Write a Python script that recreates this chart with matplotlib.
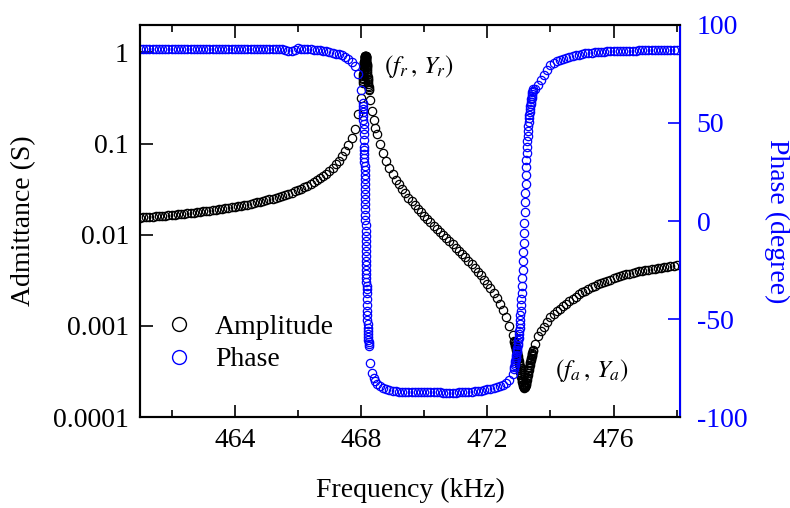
import numpy as np
import matplotlib
matplotlib.use("Agg")
from matplotlib import pyplot as plt
from matplotlib.lines import Line2D
from matplotlib.ticker import FixedLocator, FuncFormatter, MultipleLocator

plt.rcParams['font.family'] = ['Liberation Serif', 'DejaVu Serif']
plt.rcParams['mathtext.fontset'] = 'stix'
plt.rcParams['axes.unicode_minus'] = False

# --- measured sweep, read off the plot ---
# coarse sweep below the resonance
freq_low = [461.0, 461.1, 461.2, 461.3, 461.4, 461.5, 461.6, 461.7, 461.8, 461.9,
            462.0, 462.1, 462.2, 462.3, 462.4, 462.5, 462.6, 462.7, 462.8, 462.9,
            463.0, 463.1, 463.2, 463.3, 463.4, 463.5, 463.6, 463.7, 463.8, 463.9,
            464.0, 464.1, 464.2, 464.3, 464.4, 464.5, 464.6, 464.7, 464.8, 464.9,
            465.0, 465.1, 465.2, 465.3, 465.4, 465.5, 465.6, 465.7, 465.8, 465.9,
            466.0, 466.1, 466.2, 466.3, 466.4, 466.5, 466.6, 466.7, 466.8, 466.9,
            467.0, 467.1, 467.2, 467.3, 467.4, 467.5, 467.6, 467.7, 467.8, 467.9,
            468.0]
amp_low = [0.0154, 0.0155, 0.0156, 0.0157, 0.0158, 0.0159, 0.0160, 0.0161, 0.0162, 0.0164,
           0.0165, 0.0166, 0.0167, 0.0169, 0.0170, 0.0172, 0.0173, 0.0175, 0.0176, 0.0178,
           0.0180, 0.0182, 0.0184, 0.0186, 0.0188, 0.0190, 0.0192, 0.0194, 0.0197, 0.0199,
           0.0202, 0.0205, 0.0208, 0.0211, 0.0214, 0.0218, 0.0222, 0.0226, 0.0230, 0.0234,
           0.0239, 0.0244, 0.0249, 0.0255, 0.0261, 0.0267, 0.0274, 0.0282, 0.0290, 0.0299,
           0.0309, 0.0320, 0.0332, 0.0345, 0.0360, 0.0377, 0.0395, 0.0417, 0.0441, 0.0469,
           0.0503, 0.0542, 0.0590, 0.0649, 0.0724, 0.0822, 0.0956, 0.115, 0.145, 0.210,
           0.320]
phase_low = [87.8, 87.9, 87.8, 87.8, 87.7, 87.8, 87.9, 87.8, 87.8, 87.8,
             87.8, 87.8, 87.9, 87.8, 87.8, 87.7, 87.8, 87.8, 87.9, 87.8,
             87.8, 87.8, 87.7, 87.8, 87.8, 87.8, 87.9, 87.8, 87.8, 87.8,
             87.8, 87.7, 87.8, 87.8, 87.8, 87.8, 87.9, 87.8, 87.7, 87.8,
             87.8, 87.8, 87.7, 87.8, 87.7, 87.6, 87.4, 86.9, 86.6, 87.4,
             88.2, 88.0, 87.8, 87.7, 87.6, 87.4, 87.2, 87.0, 86.8, 86.5,
             86.2, 85.8, 85.4, 85.0, 84.5, 83.8, 82.8, 81.3, 79.0, 75.0,
             67.0]

# fine sweep across the resonance (f_r, Y_r)
freq_res = [468.05, 468.055, 468.06, 468.065, 468.07, 468.075, 468.08, 468.085, 468.09, 468.095,
            468.1, 468.1025, 468.105, 468.1075, 468.11, 468.1125, 468.115, 468.1175, 468.12, 468.1225,
            468.125, 468.1275, 468.13, 468.1325, 468.135, 468.1375, 468.14, 468.1425, 468.145, 468.1475,
            468.15, 468.1525, 468.155, 468.1575, 468.16, 468.1625, 468.165, 468.1675, 468.17, 468.1725,
            468.175, 468.1775, 468.18, 468.185, 468.19, 468.195, 468.2, 468.205, 468.21, 468.215,
            468.22, 468.225, 468.23, 468.235, 468.24, 468.245, 468.25]
amp_res = [0.4666, 0.4862, 0.5071, 0.5296, 0.5535, 0.5792, 0.6063, 0.6353, 0.6656, 0.6972,
           0.7297, 0.7462, 0.7627, 0.7789, 0.7951, 0.8106, 0.8260, 0.8401, 0.8542, 0.8661,
           0.8780, 0.8871, 0.8962, 0.9018, 0.9074, 0.9090, 0.9106, 0.9082, 0.9057, 0.8993,
           0.8929, 0.8830, 0.8731, 0.8605, 0.8478, 0.8330, 0.8182, 0.8022, 0.7861, 0.7694,
           0.7527, 0.7358, 0.7188, 0.6855, 0.6532, 0.6222, 0.5928, 0.5652, 0.5391, 0.5148,
           0.4921, 0.4708, 0.4511, 0.4325, 0.4152, 0.3992, 0.3840]
phase_res = [60.3, 58.9, 57.3, 55.6, 53.7, 51.6, 49.4, 46.9, 44.2, 41.2,
             37.9, 36.1, 34.3, 32.3, 30.3, 28.2, 26.0, 23.7, 21.4, 19.0,
             16.5, 14.0, 11.4, 8.7, 6.0, 3.3, 0.6, -2.2, -4.9, -7.6,
             -10.2, -12.8, -15.4, -17.9, -20.3, -22.6, -24.9, -27.1, -29.2, -31.2,
             -33.1, -34.9, -36.7, -40.0, -43.0, -45.8, -48.2, -50.5, -52.5, -54.4,
             -56.2, -57.7, -59.2, -60.5, -61.7, -62.9, -63.9]

# between the two resonances
freq_mid = [468.3, 468.35, 468.4, 468.45, 468.5, 468.6, 468.7, 468.8, 468.9,
            469.0, 469.1, 469.2, 469.3, 469.4, 469.5, 469.6, 469.7, 469.8, 469.9,
            470.0, 470.1, 470.2, 470.3, 470.4, 470.5, 470.6, 470.7, 470.8, 470.9,
            471.0, 471.1, 471.2, 471.3, 471.4, 471.5, 471.6, 471.7, 471.8, 471.9,
            472.0, 472.1, 472.2, 472.3, 472.4, 472.5, 472.6, 472.7, 472.8]
amp_mid = [0.300, 0.225, 0.180, 0.150, 0.128, 0.098, 0.078, 0.064, 0.054,
           0.0465, 0.0402, 0.0356, 0.0317, 0.0284, 0.0256, 0.0232, 0.0211, 0.0193, 0.0176,
           0.0162, 0.0149, 0.0137, 0.0126, 0.0116, 0.01075, 0.00993, 0.00917, 0.00847, 0.00782,
           0.00722, 0.00665, 0.00613, 0.00563, 0.00517, 0.00473, 0.00432, 0.00393, 0.00357, 0.00322,
           0.00289, 0.00258, 0.00228, 0.00201, 0.00174, 0.00148, 0.00124, 0.00100, 0.00079]
phase_mid = [-72.5, -77.5, -80.0, -81.8, -83.0, -84.4, -85.3, -85.9, -86.3,
             -86.6, -86.8, -87.0, -87.1, -87.2, -87.2, -87.3, -87.3, -87.3, -87.3,
             -87.3, -87.3, -87.3, -87.4, -87.4, -87.4, -87.5, -87.5, -87.5, -87.5,
             -87.5, -87.4, -87.4, -87.3, -87.2, -87.1, -86.9, -86.7, -86.5, -86.2,
             -85.9, -85.6, -85.3, -84.8, -84.3, -83.6, -82.7, -81.2, -78.0]

# fine sweep across the anti-resonance (f_a, Y_a)
freq_anti = [472.85, 472.86, 472.87, 472.88, 472.89, 472.90, 472.91, 472.92, 472.93, 472.94,
             472.95, 472.96, 472.97, 472.98, 472.99, 473.00, 473.01, 473.02, 473.03, 473.04,
             473.05, 473.06, 473.07, 473.08, 473.09, 473.10, 473.11, 473.12, 473.13, 473.14,
             473.15, 473.16, 473.17, 473.18, 473.19, 473.20, 473.21, 473.22, 473.23, 473.24,
             473.25, 473.26, 473.27, 473.28, 473.29, 473.30, 473.31, 473.32, 473.33, 473.34,
             473.35, 473.36, 473.37, 473.38, 473.39, 473.40, 473.41, 473.42, 473.43, 473.44,
             473.45]
amp_anti = [0.000682, 0.000661, 0.000641, 0.000621, 0.000601, 0.000581, 0.000562, 0.000542, 0.000523, 0.000504,
            0.000486, 0.000467, 0.000448, 0.000431, 0.000413, 0.000395, 0.000379, 0.000362, 0.000346, 0.000330,
            0.000315, 0.000301, 0.000287, 0.000274, 0.000262, 0.000251, 0.000241, 0.000232, 0.000224, 0.000218,
            0.000214, 0.000211, 0.000210, 0.000211, 0.000213, 0.000217, 0.000222, 0.000229, 0.000237, 0.000245,
            0.000256, 0.000266, 0.000278, 0.000290, 0.000303, 0.000316, 0.000330, 0.000344, 0.000358, 0.000373,
            0.000387, 0.000402, 0.000417, 0.000432, 0.000447, 0.000463, 0.000479, 0.000494, 0.000509, 0.000525,
            0.000540]
phase_anti = [-75.5, -74.6, -73.6, -72.6, -71.5, -70.4, -69.3, -68.2, -67.0, -65.8,
              -64.6, -63.3, -62.1, -60.8, -59.5, -57.9, -56.3, -54.6, -52.6, -50.5,
              -48.2, -45.7, -43.0, -40.0, -36.8, -33.1, -29.3, -25.0, -20.6, -16.0,
              -11.0, -6.0, -0.8, 4.4, 9.5, 14.2, 18.9, 23.4, 27.4, 31.2,
              34.8, 38.0, 40.9, 43.6, 46.1, 48.3, 50.4, 52.3, 54.1, 55.7,
              57.1, 58.5, 59.7, 60.9, 62.0, 63.0, 64.0, 64.8, 65.6, 66.4,
              67.1]

# coarse sweep above the anti-resonance
freq_high = [473.5, 473.6, 473.7, 473.8, 473.9, 474.0, 474.1, 474.2, 474.3, 474.4,
             474.5, 474.6, 474.7, 474.8, 474.9, 475.0, 475.1, 475.2, 475.3, 475.4,
             475.5, 475.6, 475.7, 475.8, 475.9, 476.0, 476.1, 476.2, 476.3, 476.4,
             476.5, 476.6, 476.7, 476.8, 476.9, 477.0, 477.1, 477.2, 477.3, 477.4,
             477.5, 477.6, 477.7, 477.8, 477.9, 478.0]
amp_high = [0.00064, 0.00077, 0.00088, 0.00098, 0.00111, 0.00124, 0.00135, 0.00145, 0.00155, 0.00164,
            0.00174, 0.00186, 0.00198, 0.00210, 0.00222, 0.00233, 0.00244, 0.00254, 0.00265, 0.00276,
            0.00286, 0.00295, 0.00304, 0.00313, 0.00322, 0.00331, 0.00340, 0.00349, 0.00358, 0.00367,
            0.00374, 0.00381, 0.00388, 0.00395, 0.00401, 0.00407, 0.00413, 0.00419, 0.00424, 0.00430,
            0.00435, 0.00440, 0.00445, 0.00450, 0.00455, 0.00460]
phase_high = [67.5, 69.6, 72.0, 74.7, 77.0, 79.4, 80.7, 81.6, 82.3, 82.9,
              83.4, 83.8, 84.2, 84.6, 84.9, 85.2, 85.5, 85.7, 85.9, 86.0,
              86.2, 86.3, 86.4, 86.5, 86.5, 86.6, 86.7, 86.7, 86.8, 86.8,
              86.9, 86.9, 86.9, 87.0, 87.0, 87.0, 87.0, 87.1, 87.1, 87.1,
              87.1, 87.2, 87.2, 87.2, 87.2, 87.2]

freq = np.array(freq_low + freq_res + freq_mid + freq_anti + freq_high)
amp = np.array(amp_low + amp_res + amp_mid + amp_anti + amp_high)
phase = np.array(phase_low + phase_res + phase_mid + phase_anti + phase_high)

blue = '#0000ff'
fs = 20

fig = plt.figure(figsize=(7.9, 5.08), dpi=100)
ax = fig.add_axes([0.1772, 0.1791, 0.6835, 0.7717])
ax2 = ax.twinx()

ax.semilogy(freq, amp, 'o', mfc='none', mec='black', ms=6, mew=0.9)
ax2.plot(freq, phase, 'o', mfc='none', mec=blue, ms=6, mew=0.9)

ax.set_xlim(461.0, 478.1)
ax.set_ylim(1e-4, 2.0)
ax2.set_ylim(-100, 100)

ax.xaxis.set_major_locator(MultipleLocator(4))
ax.xaxis.set_minor_locator(MultipleLocator(2))
ax.yaxis.set_major_locator(FixedLocator([1e-4, 1e-3, 1e-2, 1e-1, 1]))
ax.yaxis.set_minor_locator(FixedLocator([]))
ax.yaxis.set_major_formatter(FuncFormatter(lambda v, p: {1e-4: '0.0001', 1e-3: '0.001', 1e-2: '0.01',
                                                          1e-1: '0.1', 1: '1'}.get(v, '')))
ax2.yaxis.set_major_locator(MultipleLocator(50))
ax2.yaxis.set_major_formatter(FuncFormatter(lambda v, p: '%d' % v))

ax.tick_params(axis='x', which='both', direction='in', top=True, labelsize=fs, pad=8)
ax.tick_params(axis='x', which='major', length=9, width=1.2)
ax.tick_params(axis='x', which='minor', length=5, width=1.2)
ax.tick_params(axis='y', which='major', direction='in', length=9, width=1.2, labelsize=fs, pad=8)
ax2.tick_params(axis='y', which='major', direction='in', length=9, width=1.2, labelsize=fs, pad=12,
                colors=blue)

for s in ['left', 'bottom', 'top']:
    ax.spines[s].set_linewidth(1.5)
    ax2.spines[s].set_linewidth(1.5)
ax2.spines['right'].set_color(blue)
ax2.spines['right'].set_linewidth(1.5)

ax.set_xlabel('Frequency (kHz)', fontsize=fs, labelpad=18)
ax.set_ylabel('Admittance (S)', fontsize=fs, labelpad=12)
ax2.set_ylabel('Phase (degree)', fontsize=fs, color=blue, rotation=270, labelpad=30)

ax.text(468.72, 0.70, r'$(f_r\,,\,Y_r)$', fontsize=18, va='center', ha='left')
ax.text(474.15, 0.00032, r'$(f_a\,,\,Y_a)$', fontsize=18, va='center', ha='left')

handles = [Line2D([], [], ls='none', marker='o', mfc='none', mec='black', ms=10, mew=1.0),
           Line2D([], [], ls='none', marker='o', mfc='none', mec=blue, ms=10, mew=1.0)]
ax2.legend(handles, ['Amplitude', 'Phase'], loc='lower left', bbox_to_anchor=(0.0, 0.05),
           frameon=False, fontsize=fs, handlelength=1.0, handletextpad=0.8, labelspacing=0.25)

fig.savefig('out.png', dpi=100)
